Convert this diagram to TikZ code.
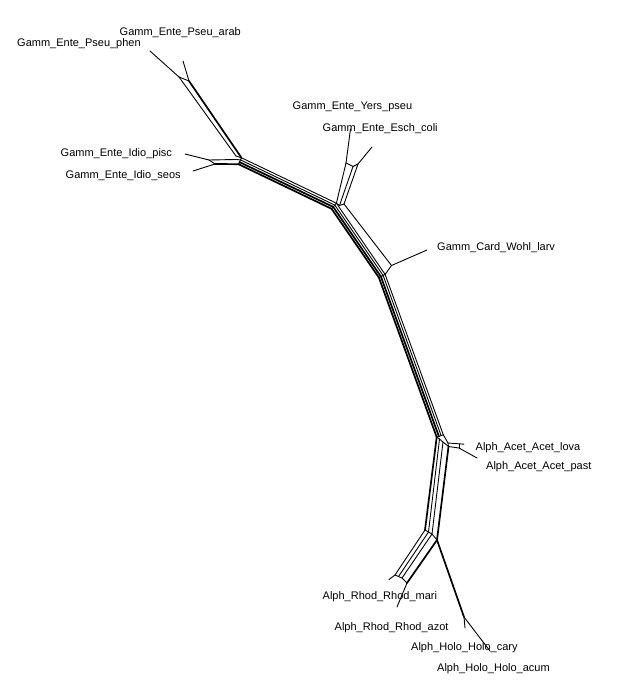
\documentclass[tikz,border=0pt]{standalone}
\usepackage{fontspec}
\setmainfont{Liberation Sans}
\begin{document}
\begin{tikzpicture}[x=1pt,y=-1pt,
  edge/.style={line width=0.9pt,line join=round,line cap=round},
  heavy/.style={line width=1.7pt,line join=round,line cap=round},
  taxon/.style={anchor=base west,inner sep=0pt,font=\fontsize{11}{13}\selectfont}]
\useasboundingbox[fill=white] (0,0) rectangle (638,700);

% ---------- taxon labels ----------
\node[taxon] (arab) at (119.5,35.5) {Gamm\_Ente\_Pseu\_arab};
\node[taxon] (phen) at (17,47) {Gamm\_Ente\_Pseu\_phen};
\node[taxon] (yers) at (292.5,110) {Gamm\_Ente\_Yers\_pseu};
\node[taxon] (esch) at (322.5,131.5) {Gamm\_Ente\_Esch\_coli};
\node[taxon] (pisc) at (60.5,156.5) {Gamm\_Ente\_Idio\_pisc};
\node[taxon] (seos) at (65.5,179) {Gamm\_Ente\_Idio\_seos};
\node[taxon] (wohl) at (437,250.5) {Gamm\_Card\_Wohl\_larv};
\node[taxon] (lova) at (475.5,450.5) {Alph\_Acet\_Acet\_lova};
\node[taxon] (past) at (486,469.5) {Alph\_Acet\_Acet\_past};
\node[taxon] (mari) at (322.5,599) {Alph\_Rhod\_Rhod\_mari};
\node[taxon] (azot) at (334.5,630) {Alph\_Rhod\_Rhod\_azot};
\node[taxon] (cary) at (411,650) {Alph\_Holo\_Holo\_cary};
\node[taxon] (acum) at (437,671) {Alph\_Holo\_Holo\_acum};

% ---------- network vertices ----------
% Pseudomonas group
\coordinate (phenTip) at (150,51);
\coordinate (arabTip) at (183,61);
\coordinate (ph) at (179,77);
\coordinate (ar) at (189,81);
\coordinate (phB) at (236,156);
% Idiomarina group
\coordinate (piscTip) at (185,154);
\coordinate (seosTip) at (193,171);
\coordinate (pi) at (209,160);
\coordinate (se) at (215,164);
\coordinate (piB) at (236,159.5);
\coordinate (seB) at (239.5,164.2);
% trunk bundle, four parallel strands a-d
\coordinate (J1a) at (241.5,157.8);
\coordinate (J1b) at (240.5,159.9);
\coordinate (J1c) at (239.5,162.1);
\coordinate (J1d) at (238.5,164.2);
\coordinate (J2a) at (336.4,203.2);
\coordinate (J2b) at (334.8,205.1);
\coordinate (J2c) at (333.2,206.9);
\coordinate (J2d) at (331.6,208.8);
\coordinate (J3a) at (385.1,274.4);
\coordinate (J3b) at (383.1,275.4);
\coordinate (J3c) at (380.9,276.6);
\coordinate (J3d) at (378.9,277.6);
\coordinate (J4a) at (443.3,434.8);
\coordinate (J4b) at (441.1,435.6);
\coordinate (J4c) at (438.9,436.4);
\coordinate (J4d) at (436.7,437.2);
% Enterobacteria group
\coordinate (yersTip) at (350.5,129);
\coordinate (eschTip) at (372,147);
\coordinate (ye) at (346,163);
\coordinate (em) at (353,166.5);
\coordinate (es) at (358,164);
\coordinate (eM) at (339.5,205.5);
\coordinate (W0) at (344,204);
% Wohlfahrtiimonas
\coordinate (wohlTip) at (427,250);
\coordinate (W1) at (391.5,265.5);
% Acetobacter group
\coordinate (Ac1) at (448,443);
\coordinate (Ac4) at (459,443.8);
\coordinate (lovaTip) at (464,444.2);
\coordinate (Ac2) at (448.5,446.5);
\coordinate (Ac3) at (459,448);
\coordinate (pastTip) at (477,458);
% lower trunk
\coordinate (D2t) at (439.5,439);
\coordinate (D3t) at (443,442);
\coordinate (D1b) at (425,530);
\coordinate (D2b) at (428.5,532);
\coordinate (D3b) at (432,534);
\coordinate (D4b) at (437,540);
% Rhodobacter group
\coordinate (R1) at (395,575);
\coordinate (R2) at (398.5,576.5);
\coordinate (R3) at (402,578);
\coordinate (R4) at (407,583);
\coordinate (mariTip) at (389,579.5);
\coordinate (azotTip) at (397,607);
% Holospora group
\coordinate (H) at (464,617);
\coordinate (caryTip) at (465,628);
\coordinate (acumTip) at (490,651);

% ---------- edges ----------
% Pseudomonas
\draw[edge] (phenTip) -- (ph);
\draw[edge] (arabTip) -- (ar);
\draw[edge] (ph) -- (ar);
\draw[edge] (ph) -- (phB);
\draw[heavy] (ar) -- (J1a);
\draw[edge] (phB) -- (J1a);
% Idiomarina
\draw[edge] (piscTip) -- (pi);
\draw[edge] (seosTip) -- (se);
\draw[edge] (pi) -- (se);
\draw[edge] (pi) -- (piB);
\draw[heavy] (se) -- (seB);
\draw[edge] (piB) -- (J1b);
% trunk strands
\draw[edge] (J1a) -- (J2a) -- (J3a) -- (J4a);
\draw[edge] (J1b) -- (J2b) -- (J3b) -- (J4b);
\draw[heavy] (J1c) -- (J2c) -- (J3c) -- (J4c);
\draw[heavy] (J1d) -- (J2d) -- (J3d) -- (J4d);
\draw[edge] (J1a) -- (J1d);
\draw[edge] (J2a) -- (J2d);
\draw[edge] (J3a) -- (J3d);
\draw[edge] (J4a) -- (J4d);
% Enterobacteria
\draw[edge] (yersTip) -- (ye);
\draw[edge] (eschTip) -- (es);
\draw[edge] (ye) -- (em) -- (es);
\draw[edge] (ye) -- (J2a);
\draw[edge] (em) -- (eM);
\draw[edge] (es) -- (W0);
\draw[edge] (J2a) -- (eM) -- (W0);
% Wohlfahrtiimonas
\draw[edge] (W0) -- (W1);
\draw[edge] (wohlTip) -- (W1);
\draw[edge] (W1) -- (J3a);
% Acetobacter
\draw[edge] (J4a) -- (Ac1);
\draw[edge] (Ac1) -- (lovaTip);
\draw[edge] (Ac1) -- (Ac2);
\draw[edge] (Ac2) -- (Ac3);
\draw[edge] (Ac4) -- (Ac3);
\draw[edge] (Ac3) -- (pastTip);
\draw[edge] (J4d) -- (D2t) -- (D3t) -- (Ac2);
% lower trunk strands
\draw[heavy] (J4d) -- (D1b);
\draw[edge] (D2t) -- (D2b);
\draw[edge] (D3t) -- (D3b);
\draw[heavy] (Ac2) -- (D4b);
\draw[edge] (D1b) -- (D2b) -- (D3b) -- (D4b);
% Rhodobacter
\draw[edge] (D1b) -- (R1);
\draw[edge] (D2b) -- (R2);
\draw[edge] (D3b) -- (R3);
\draw[heavy] (D4b) -- (R4);
\draw[edge] (R1) -- (R2) -- (R3) -- (R4);
\draw[edge] (mariTip) -- (R1);
\draw[edge] (azotTip) -- (R4);
% Holospora
\draw[heavy] (D4b) -- (H);
\draw[edge] (H) -- (caryTip);
\draw[edge] (H) -- (acumTip);
\end{tikzpicture}
\end{document}
